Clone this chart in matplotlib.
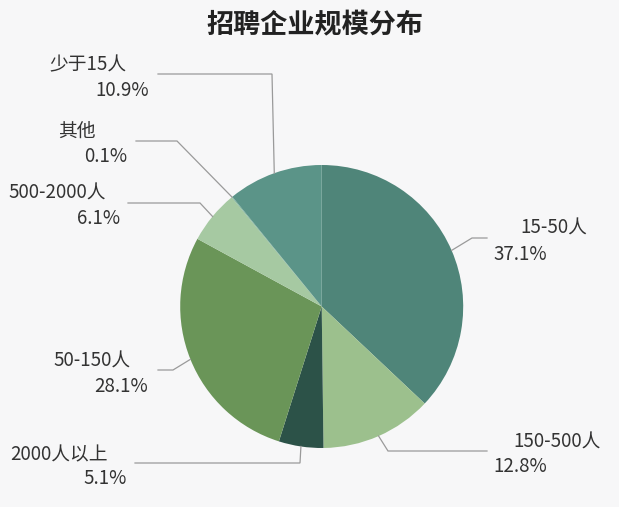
import numpy as np
import matplotlib
matplotlib.use("Agg")
import matplotlib.pyplot as plt

plt.rcParams['font.family'] = ['Noto Sans CJK SC', 'DejaVu Sans']

# ---- data ----
categories = ["15-50人", "150-500人", "2000人以上", "50-150人", "500-2000人", "其他", "少于15人"]
values = [37.1, 12.8, 5.1, 28.1, 6.1, 0.1, 10.9]
pct_labels = ["37.1%", "12.8%", "5.1%", "28.1%", "6.1%", "0.1%", "10.9%"]
colors = ["#4f8579", "#9cc08d", "#2c5248", "#6a9558", "#a6c9a2", "#7fb39a", "#5b9488"]
title = "招聘企业规模分布"

# ---- layout (pixel coords, y down) ----
W, H = 619, 507
cx, cy, R = 321.7, 306.5, 141.5
name_pos = [(553.5, 228), (557.5, 442), (59, 455), (92, 361), (57.5, 193), (76.5, 131), (87.5, 65)]
pct_pos = [(520.5, 255), (520.5, 467), (105, 479), (121.5, 386), (98.5, 219), (105.5, 157), (122.5, 90)]
elbows = [(472, 238), (388, 451), (300, 463), (173, 370), (200, 203), (177, 141), (272, 74)]
ends = [(487, 238), (487, 451), (135, 463), (158, 370), (128, 203), (136, 141), (158, 74)]

fig = plt.figure(figsize=(W / 100, H / 100), dpi=100)
fig.patch.set_facecolor("#f7f7f8")
ax = fig.add_axes([0, 0, 1, 1])

def fy(y):
    return H - y

wedges, _ = ax.pie(values, colors=colors, startangle=90, counterclock=False,
                   center=(cx, fy(cy)), radius=R, frame=True,
                   wedgeprops=dict(linewidth=0))
ax.set_xlim(0, W)
ax.set_ylim(0, H)
ax.set_aspect("equal")
ax.axis("off")

tc = "#333333"
for i, w in enumerate(wedges):
    ang = np.deg2rad((w.theta1 + w.theta2) / 2)
    sx = cx + R * np.cos(ang)
    sy = fy(cy) + R * np.sin(ang)
    ex, ey = elbows[i]
    tx, ty = ends[i]
    ax.plot([sx, ex, tx], [sy, fy(ey), fy(ty)], color="#9a9a9a", lw=0.9,
            solid_joinstyle="miter")
    nx, ny = name_pos[i]
    px, py = pct_pos[i]
    ax.text(nx, fy(ny), categories[i], ha="center", va="center", fontsize=13.5, color=tc)
    ax.text(px, fy(py), pct_labels[i], ha="center", va="center", fontsize=13.5, color=tc)

ax.text(315, fy(25), title, ha="center", va="center", fontsize=19.5, fontweight="bold", color="#222222")

fig.savefig("out.png", dpi=100, facecolor=fig.get_facecolor())
